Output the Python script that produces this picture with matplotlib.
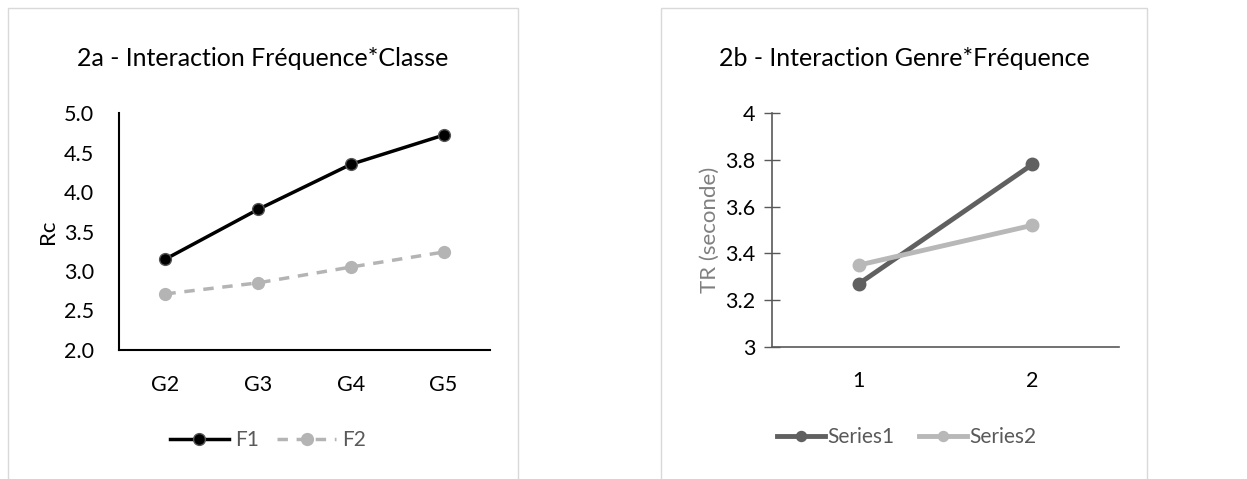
import matplotlib
matplotlib.use("Agg")
import matplotlib.pyplot as plt
from matplotlib.patches import Rectangle

plt.rcParams['font.family'] = ['Lato', 'DejaVu Sans']

# 2a data
classes = ['G2', 'G3', 'G4', 'G5']
f1 = [3.15, 3.78, 4.35, 4.72]
f2 = [2.71, 2.85, 3.05, 3.24]

# 2b data
freq = ['1', '2']
series1 = [3.27, 3.78]
series2 = [3.35, 3.52]

W, H = 1247, 479
fig = plt.figure(figsize=(W / 100, H / 100), dpi=100)


def px(x0, y0, x1, y1):
    # pixel box (top-left origin) -> figure fraction
    return [x0 / W, 1 - y1 / H, (x1 - x0) / W, (y1 - y0) / H]


# chart frames
for x0, x1 in [(8, 518), (661, 1147)]:
    fig.patches.append(Rectangle((x0 / W, -0.1), (x1 - x0) / W, 1 - 8 / H + 0.1,
                                 transform=fig.transFigure, fill=False,
                                 edgecolor='#d9d9d9', linewidth=1))

# ---- 2a ----
ax = fig.add_axes(px(119, 113, 490, 350))
xs = [i + 0.5 for i in range(len(classes))]
ax.plot(xs, f1, color='black', lw=2.5, marker='o', ms=8.5, mfc='black',
        mec='#555555', mew=1, label='F1')
ax.plot(xs, f2, color='#b4b4b4', lw=2.5, ls=(0, (3, 2.5)), marker='o', ms=8.5,
        mfc='#b4b4b4', mec='#b4b4b4', label='F2')
ax.set_xlim(0, 4)
ax.set_ylim(2.0, 5.0)
ax.set_xticks(xs)
ax.set_xticklabels(classes)
ax.set_yticks([2.0, 2.5, 3.0, 3.5, 4.0, 4.5, 5.0])
ax.set_yticklabels(['%.1f' % v for v in [2.0, 2.5, 3.0, 3.5, 4.0, 4.5, 5.0]])
ax.tick_params(length=0, labelsize=15.5, colors='black')
ax.tick_params(axis='y', pad=18)
ax.tick_params(axis='x', pad=18)
for s in ['top', 'right']:
    ax.spines[s].set_visible(False)
for s in ['left', 'bottom']:
    ax.spines[s].set_linewidth(1.5)
ax.set_ylabel('Rc', fontsize=16, labelpad=4)
fig.text(263 / W, 1 - 58 / H, '2a - Interaction Fréquence*Classe', ha='center',
         va='center', fontsize=18)
fig.legend(handles=ax.get_lines(), loc='center', bbox_to_anchor=(268 / W, 1 - 440 / H),
           ncol=2, frameon=False, fontsize=15, labelcolor='#595959',
           handlelength=2.8, handletextpad=0.3, columnspacing=0.9)

# ---- 2b ----
bx = fig.add_axes(px(772, 113, 1119, 347))
xs2 = [i + 0.5 for i in range(len(freq))]
bx.plot(xs2, series1, color='#606060', lw=3.5, marker='o', ms=9, label='Series1')
bx.plot(xs2, series2, color='#b8b8b8', lw=3.5, marker='o', ms=9, label='Series2')
bx.set_xlim(0, 2)
bx.set_ylim(3, 4)
bx.set_xticks(xs2)
bx.set_xticklabels(freq)
bx.set_yticks([3, 3.2, 3.4, 3.6, 3.8, 4])
bx.set_yticklabels(['3', '3.2', '3.4', '3.6', '3.8', '4'])
bx.tick_params(axis='y', direction='inout', length=12, width=1, color='#595959',
               labelsize=15.5, pad=6)
bx.tick_params(axis='x', length=0, labelsize=15.5, pad=17)
for s in ['top', 'right']:
    bx.spines[s].set_visible(False)
for s in ['left', 'bottom']:
    bx.spines[s].set_color('#595959')
    bx.spines[s].set_linewidth(1.2)
bx.set_ylabel('TR (seconde)', fontsize=16, color='#808080', labelpad=4)
fig.text(904 / W, 1 - 58 / H, '2b - Interaction Genre*Fréquence', ha='center',
         va='center', fontsize=18)
fig.legend(handles=bx.get_lines(), loc='center', bbox_to_anchor=(907 / W, 1 - 437 / H),
           ncol=2, frameon=False, fontsize=15, labelcolor='#595959',
           handlelength=2.3, handletextpad=0.1, columnspacing=1.2, markerscale=0.8)

fig.savefig('out.png', dpi=100, facecolor='white')
